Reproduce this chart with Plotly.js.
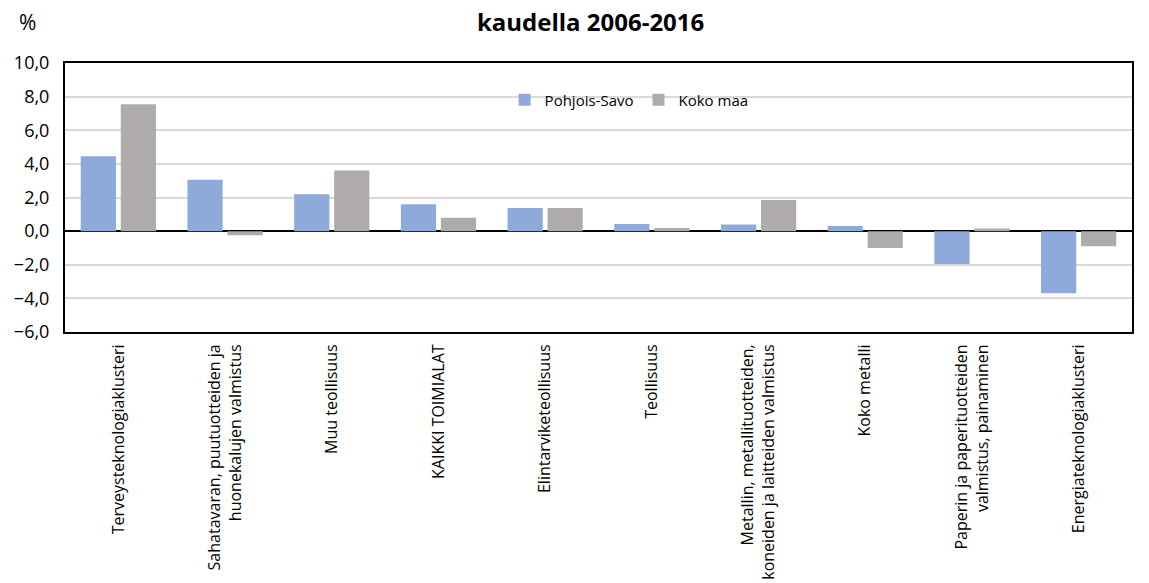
<!DOCTYPE html>
<html>
<head>
<meta charset="utf-8">
<script src="https://cdn.plot.ly/plotly-3.0.1.min.js"></script>
<style>html,body{margin:0;padding:0;background:#fff}#chart{width:1149px;height:583px}</style>
</head>
<body>
<div id="chart"></div>
<script>
const categories = [
  "Terveysteknologiaklusteri",
  "Sahatavaran, puutuotteiden ja<br>huonekalujen valmistus",
  "Muu teollisuus",
  "KAIKKI TOIMIALAT",
  "Elintarviketeollisuus",
  "Teollisuus",
  "Metallin, metallituotteiden,<br>koneiden ja laitteiden valmistus",
  "Koko metalli",
  "Paperin ja paperituotteiden<br>valmistus, painaminen",
  "Energiateknologiaklusteri"
];
const pohjoisSavo = [4.45, 3.05, 2.2, 1.6, 1.38, 0.42, 0.4, 0.3, -1.95, -3.7];
const kokoMaa = [7.55, -0.25, 3.6, 0.8, 1.38, 0.18, 1.85, -1.0, 0.15, -0.9];
const seriesNames = ["Pohjois-Savo", "Koko maa"];
const yTicks = [-6, -4, -2, 0, 2, 4, 6, 8, 10];

const FONT = "'Open Sans', sans-serif";

const data = [
  {type: 'bar', name: seriesNames[0], x: categories, y: pohjoisSavo, marker: {color: '#8EAADB'}, hoverinfo: 'y'},
  {type: 'bar', name: seriesNames[1], x: categories, y: kokoMaa, marker: {color: '#AFABAB'}, hoverinfo: 'y'}
];

const layout = {
  width: 1149, height: 583,
  margin: {l: 65, r: 17, t: 63, b: 251},
  paper_bgcolor: '#fff', plot_bgcolor: '#fff',
  separators: ', ',
  font: {family: FONT, color: '#000'},
  barmode: 'group', bargap: 0.25, bargroupgap: 0.12,
  title: {text: '<b>kaudella 2006-2016</b>', x: 0.514, xanchor: 'center', y: 0.962, yanchor: 'middle', font: {size: 24, family: FONT}},
  xaxis: {
    type: 'category', tickangle: -90, tickfont: {size: 16, family: FONT},
    showline: true, mirror: true, linecolor: '#000', linewidth: 2,
    showgrid: false, ticks: '', automargin: false, ticklabelstandoff: 4
  },
  yaxis: {
    range: [-6, 10], tickvals: yTicks, tickformat: '.1f',
    tickfont: {size: 18, family: FONT},
    showline: true, mirror: true, linecolor: '#000', linewidth: 2,
    showgrid: true, gridcolor: '#D9D9D9', gridwidth: 2,
    zeroline: true, zerolinecolor: '#000', zerolinewidth: 2,
    ticks: '', automargin: false, ticklabelstandoff: 10
  },
  legend: {orientation: 'h', x: 0.412, xanchor: 'left', y: 0.862, yanchor: 'middle', font: {size: 15, family: FONT}, bgcolor: 'rgba(0,0,0,0)', itemwidth: 30, tracegroupgap: 0},
  annotations: [
    {text: '%', xref: 'paper', yref: 'paper', x: -0.0356, y: 1.154, xanchor: 'center', yanchor: 'middle', showarrow: false, font: {size: 21, family: FONT}}
  ]
};

Plotly.newPlot('chart', data, layout, {displayModeBar: false, staticPlot: true});
</script>
</body>
</html>
